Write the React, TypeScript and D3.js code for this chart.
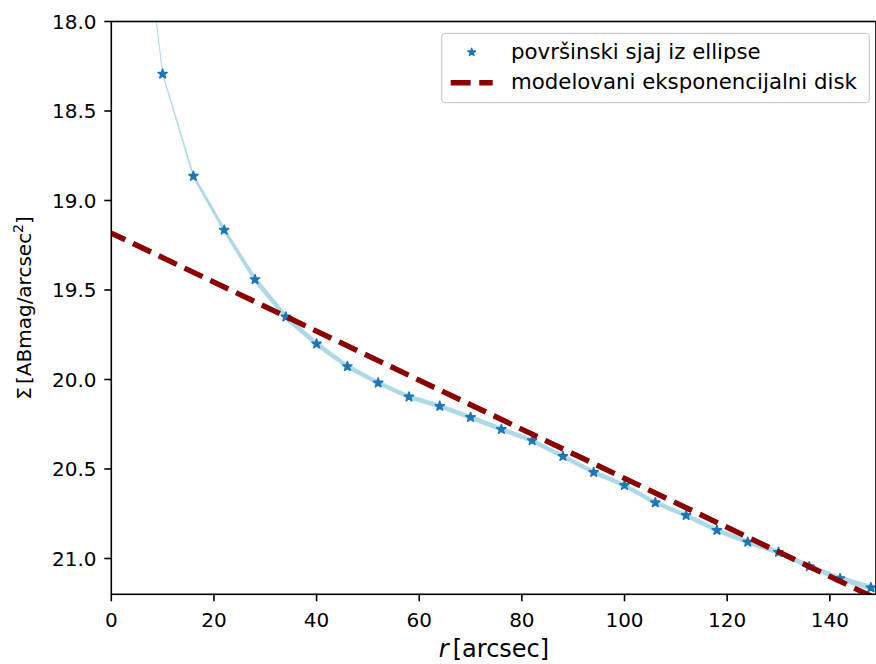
import React from "react";
import * as d3 from "d3";

const radius = [4, 10, 16, 22, 28, 34, 40, 46, 52, 58, 64, 70, 76, 82, 88, 94, 100, 106, 112, 118, 124, 130, 136, 142, 148, 154];
const surfaceBrightness = [16.86, 18.293, 18.864, 19.165, 19.441, 19.65, 19.801, 19.927, 20.019, 20.097, 20.149, 20.211, 20.278, 20.341, 20.429, 20.518, 20.591, 20.688, 20.759, 20.842, 20.908, 20.965, 21.045, 21.112, 21.163, 21.21];
const brightnessError = [0.004, 0.005, 0.012, 0.015, 0.018, 0.018, 0.015, 0.013, 0.012, 0.012, 0.012, 0.012, 0.012, 0.012, 0.012, 0.012, 0.012, 0.012, 0.012, 0.013, 0.013, 0.013, 0.014, 0.014, 0.015, 0.015];
const diskMu0 = 19.182;
const diskScale = 79.25;
const diskRadius = [0, 149];
const xTicks = [0, 20, 40, 60, 80, 100, 120, 140];
const yTicks = [18.0, 18.5, 19.0, 19.5, 20.0, 20.5, 21.0];
const legendLabels = ["površinski sjaj iz ellipse", "modelovani eksponencijalni disk"];

const W = 876, H = 664;
const L = 111.3, R = 876, T = 21.5, B = 594.3;
const FONT = "DejaVu Sans, sans-serif";

export default function App() {
  const x = d3.scaleLinear().domain([0, 149]).range([L, R]);
  const y = d3.scaleLinear().domain([18, 21.2]).range([T, B]);

  const pts = radius.map((r, i) => ({ r, m: surfaceBrightness[i], e: brightnessError[i] }));
  const band = d3.area<any>().x(d => x(d.r)).y0(d => y(d.m - d.e)).y1(d => y(d.m + d.e))(pts) || "";
  const disk = diskRadius.map(r => ({ r, m: diskMu0 + 1.0857 * r / diskScale }));
  const diskPath = d3.line<any>().x(d => x(d.r)).y(d => y(d.m))(disk) || "";
  const star = d3.symbol().type(d3.symbolStar).size(26)() || "";
  const legendStar = d3.symbol().type(d3.symbolStar).size(18)() || "";

  const blue = "#1f77b4";
  const red = "#8b0000";
  const dash = "19.95,8.6";

  return (
    <svg width={W} height={H} style={{ position: "absolute", left: 0, top: 0, background: "#fff" }} fontFamily={FONT}>
      <defs>
        <clipPath id="plot"><rect x={L} y={T} width={R - L} height={B - T} /></clipPath>
      </defs>
      <rect x={0} y={0} width={W} height={H} fill="#fff" />
      <g clipPath="url(#plot)">
        <path d={band} fill="#add8e6" stroke="#add8e6" strokeWidth={0.6} />
        {pts.map((p, i) => (
          <path key={i} d={star} transform={`translate(${x(p.r)},${y(p.m)})`} fill={blue} stroke={blue} strokeWidth={1.6} strokeLinejoin="round" />
        ))}
        <path d={diskPath} fill="none" stroke={red} strokeWidth={5.4} strokeDasharray={dash} strokeDashoffset={4.5} />
      </g>
      {/* spines */}
      <rect x={L} y={T} width={R - L} height={B - T} fill="none" stroke="#000" strokeWidth={1.6} />
      {/* x ticks */}
      {xTicks.map(t => (
        <g key={t}>
          <line x1={x(t)} x2={x(t)} y1={B} y2={B + 7} stroke="#000" strokeWidth={1.6} />
          <text x={x(t)} y={627.3} fontSize={20} textAnchor="middle">{t}</text>
        </g>
      ))}
      {/* y ticks */}
      {yTicks.map(t => (
        <g key={t}>
          <line x1={L - 7} x2={L} y1={y(t)} y2={y(t)} stroke="#000" strokeWidth={1.6} />
          <text x={96.5} y={y(t) + 7.2} fontSize={20} textAnchor="end">{t.toFixed(1)}</text>
        </g>
      ))}
      {/* axis labels */}
      <text x={494} y={657} fontSize={24} textAnchor="middle">
        <tspan fontStyle="italic">r</tspan>
        <tspan dx={4}>[arcsec]</tspan>
      </text>
      <text transform={`translate(30.7,${(T + B) / 2}) rotate(-90)`} fontSize={20} textAnchor="middle">
        <tspan>Σ</tspan>
        <tspan dx={3}>[ABmag/arcsec</tspan>
        <tspan fontSize={14} dy={-8}>2</tspan>
        <tspan dy={8}>]</tspan>
      </text>
      {/* legend */}
      <rect x={441.7} y={33.3} width={427.6} height={69.4} rx={4} fill="#fff" fillOpacity={0.8} stroke="#cccccc" strokeWidth={1.3} />
      <path d={legendStar} transform="translate(471.7,52.3)" fill={blue} stroke={blue} strokeWidth={1.4} strokeLinejoin="round" />
      <text x={511} y={59.3} fontSize={21.3}>{legendLabels[0]}</text>
      <line x1={450.7} x2={492.7} y1={82.7} y2={82.7} stroke={red} strokeWidth={5.4} strokeDasharray={dash} />
      <text x={511} y={88.5} fontSize={21.3}>{legendLabels[1]}</text>
    </svg>
  );
}
